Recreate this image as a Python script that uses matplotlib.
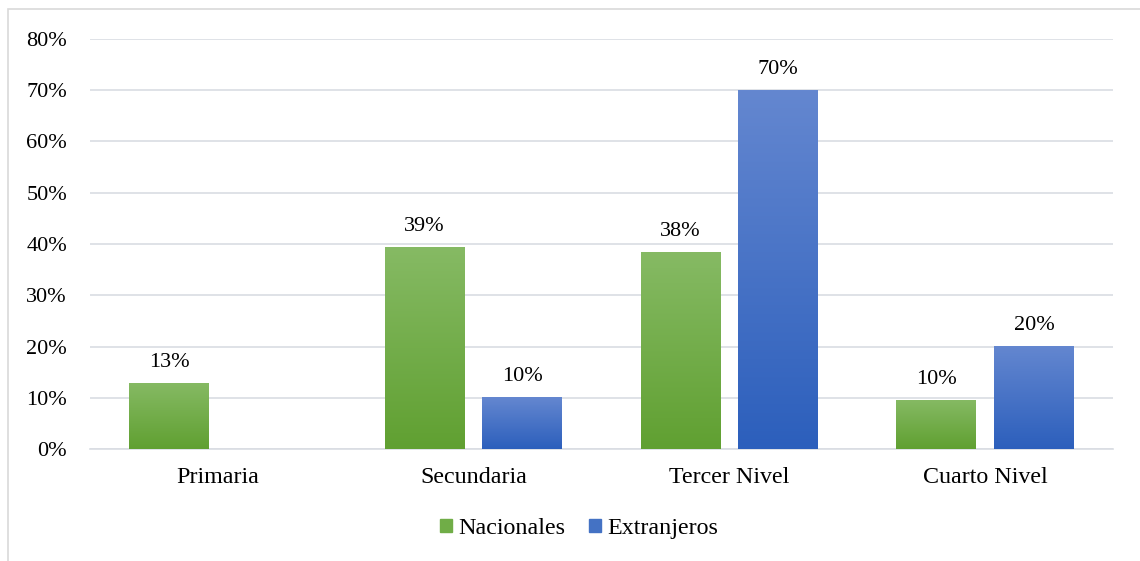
import matplotlib.pyplot as plt
import numpy as np
from matplotlib.colors import LinearSegmentedColormap
from matplotlib.patches import Rectangle

categories = ['Primaria', 'Secundaria', 'Tercer Nivel', 'Cuarto Nivel']
nacionales = [12.9, 39.4, 38.4, 9.6]
extranjeros = [0, 10.1, 70.0, 20.1]
nac_labels = ['13%', '39%', '38%', '10%']
ext_labels = [None, '10%', '70%', '20%']

plt.rcParams['font.family'] = ['Liberation Serif', 'DejaVu Serif']
num_size = 16
word_size = 17.3

fig = plt.figure(figsize=(11.4, 5.61), dpi=100)
ax = fig.add_axes([0.0789, 0.1996, 0.8974, 0.7309])

# chart frame
fig.patches.append(Rectangle((0.007, -0.01), 1.0, 0.994, transform=fig.transFigure,
                             fill=False, edgecolor='#D9D9D9', linewidth=1.2))

green_cmap = LinearSegmentedColormap.from_list('g', ['#60A031', '#86BA64'])
blue_cmap = LinearSegmentedColormap.from_list('b', ['#2C5FBC', '#6487D0'])

x = np.arange(len(categories))
w = 0.3125
off = 0.191

def gradient_bars(xs, vals, cmap, label):
    bars = ax.bar(xs, vals, w, color=cmap(0.5), label=label, zorder=2)
    grad = np.linspace(0, 1, 256).reshape(-1, 1)
    for b in bars:
        if b.get_height() <= 0:
            continue
        x0, y0 = b.get_x(), b.get_y()
        im = ax.imshow(grad, cmap=cmap, origin='lower', aspect='auto',
                       extent=[x0, x0 + b.get_width(), y0, y0 + b.get_height()], zorder=3)
        im.set_clip_path(b)
        b.set_alpha(0)
    return bars

b1 = gradient_bars(x - off, nacionales, green_cmap, 'Nacionales')
b2 = gradient_bars(x + off, extranjeros, blue_cmap, 'Extranjeros')

for i in range(len(categories)):
    ax.text(x[i] - off, nacionales[i] + 2.2, nac_labels[i], ha='center', va='bottom', fontsize=num_size)
    if ext_labels[i]:
        ax.text(x[i] + off, extranjeros[i] + 2.2, ext_labels[i], ha='center', va='bottom', fontsize=num_size)

ax.set_xlim(-0.5, 3.5)
ax.set_ylim(0, 80)
ax.set_yticks(range(0, 81, 10))
ax.set_yticklabels([f'{v}%' for v in range(0, 81, 10)], fontsize=num_size)
ax.set_xticks(x)
ax.set_xticklabels(categories, fontsize=word_size)
ax.tick_params(axis='y', length=0, pad=16.5)
ax.tick_params(axis='x', length=0, pad=13)
ax.grid(axis='y', color='#D9DDE3', linewidth=1.2, zorder=0)
ax.set_axisbelow(True)
for s in ['top', 'right', 'left']:
    ax.spines[s].set_visible(False)
ax.spines['bottom'].set_color('#D9DDE3')
ax.spines['bottom'].set_linewidth(1.2)

handles = [Rectangle((0, 0), 1, 1, color='#70AD47'), Rectangle((0, 0), 1, 1, color='#4472C4')]
fig.legend(handles, ['Nacionales', 'Extranjeros'], loc='center', bbox_to_anchor=(0.508, 0.058),
           ncol=2, frameon=False, fontsize=word_size, handlelength=0.5, handleheight=0.5,
           handletextpad=0.25, columnspacing=1.0)

fig.savefig('out.png', dpi=100)
